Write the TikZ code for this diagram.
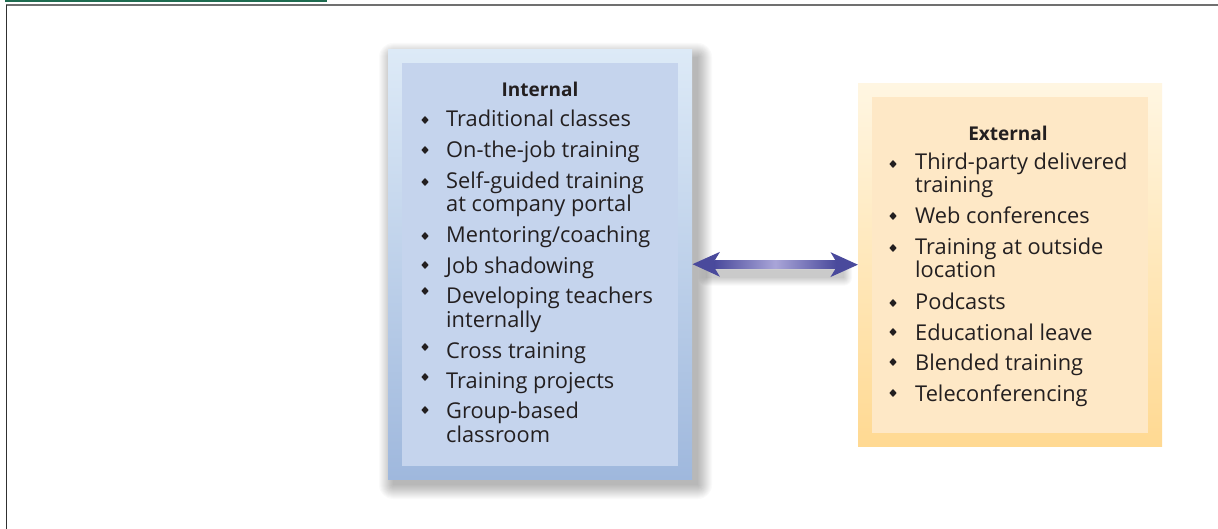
\documentclass[tikz,border=0pt]{standalone}
\usepackage{fontspec}
\setmainfont{Open Sans}
\usetikzlibrary{arrows.meta,calc,shapes.geometric}
\definecolor{txt}{HTML}{231F20}
\definecolor{greenbar}{HTML}{1E6B4F}
\definecolor{framegray}{HTML}{707070}
\definecolor{frameleft}{HTML}{303030}
\definecolor{intTop}{HTML}{DDEAF7}
\definecolor{intBot}{HTML}{9FB8DD}
\definecolor{intIn}{HTML}{C5D4ED}
\definecolor{extTop}{HTML}{FFF6E2}
\definecolor{extBot}{HTML}{FFD992}
\definecolor{extIn}{HTML}{FEE8C6}
\definecolor{arrDark}{HTML}{4A4A9C}
\definecolor{arrLight}{HTML}{A9A5D8}
\begin{document}
\begin{tikzpicture}[x=1pt,y=-1pt,
  itemtext/.style={anchor=base west, inner sep=0pt, text=txt, font=\fontsize{21.8}{23}\selectfont},
  headtext/.style={anchor=base, inner sep=0pt, text=txt, font=\fontsize{19}{22}\selectfont\bfseries},
  bul/.style={diamond, fill=txt, inner sep=0pt, minimum width=7.5pt, minimum height=8pt},
  boxnode/.style={anchor=north west, inner sep=0pt, draw=none},
  arrowline/.style={line width=7pt, draw=arrDark,
     {Stealth[length=27pt,width=24pt,inset=7pt]}-{Stealth[length=27pt,width=24pt,inset=7pt]}}]
\useasboundingbox (0,0) rectangle (1218,529);
\fill[white] (0,0) rectangle (1218,529);
% frame
\fill[greenbar] (5,0) rectangle (327,2.5);
\draw[framegray, line width=2pt] (6,5.5) -- (1218,5.5);
\draw[frameleft, line width=1.5pt] (6.5,5) -- (6.5,529);

% internal box shadow
\coordinate (ishA) at (388,49);
\coordinate (ishB) at (692,479);
\foreach \r in {0,1,...,14}{
  \fill[black, opacity=0.02, rounded corners=\r pt]
    ($(ishA)+(5-\r,8-\r)$) rectangle ($(ishB)+(6+\r,6+\r)$);
}
% boxes
\node[boxnode, minimum width=304pt, minimum height=430pt, top color=intTop, bottom color=intBot] (intouter) at (388,49) {};
\node[boxnode, minimum width=276pt, minimum height=403pt, fill=intIn] (intinner) at (402,63) {};
\node[boxnode, minimum width=304pt, minimum height=363pt, top color=extTop, bottom color=extBot] (extouter) at (858,83) {};
\node[boxnode, minimum width=276pt, minimum height=336pt, fill=extIn] (extinner) at (872,97) {};

% arrow shadow
\foreach \r in {0,1,...,8}{
  \fill[black, opacity=0.025, rounded corners=\r pt]
    ($(intouter.east)+(14-\r,6-\r)$) rectangle ($(extouter.west)+(-14+\r,13+\r)$);
}
% arrow
\draw[arrowline] (intouter.east) -- (extouter.west);
\fill[left color=arrDark, right color=arrDark, middle color=arrLight]
  ($(intouter.east)+(22,-3.5)$) rectangle ($(extouter.west)+(-22,3.5)$);

% internal text
\node[headtext] (ihead) at (540,97) {Internal};
\node[bul] (ib1) at (425,120) {};
\node[itemtext] (it1) at (446,127) {Traditional classes};
\node[bul] (ib2) at (425,150) {};
\node[itemtext] (it2) at (446,158) {On-the-job training};
\node[bul] (ib3) at (425,182) {};
\node[itemtext] (it3) at (446,189) {Self-guided training};
\node[itemtext] (it3b) at (446,212) {at company portal};
\node[bul] (ib4) at (425,236) {};
\node[itemtext] (it4) at (446,243) {Mentoring/coaching};
\node[bul] (ib5) at (425,265) {};
\node[itemtext] (it5) at (446,274) {Job shadowing};
\node[bul] (ib6) at (425,291) {};
\node[itemtext] (it6) at (446,304) {Developing teachers};
\node[itemtext] (it6b) at (446,327) {internally};
\node[bul] (ib7) at (425,347) {};
\node[itemtext] (it7) at (446,358) {Cross training};
\node[bul] (ib8) at (425,377) {};
\node[itemtext] (it8) at (446,388) {Training projects};
\node[bul] (ib9) at (425,410) {};
\node[itemtext] (it9) at (446,418) {Group-based};
\node[itemtext] (it9b) at (446,442) {classroom};

% external text
\node[headtext] (ehead) at (1008,141) {External};
\node[bul] (eb1) at (893,164) {};
\node[itemtext] (et1) at (915,170) {Third-party delivered};
\node[itemtext] (et1b) at (915,193) {training};
\node[bul] (eb2) at (893,216) {};
\node[itemtext] (et2) at (915,224) {Web conferences};
\node[bul] (eb3) at (893,248) {};
\node[itemtext] (et3) at (915,255) {Training at outside};
\node[itemtext] (et3b) at (915,278) {location};
\node[bul] (eb4) at (893,303) {};
\node[itemtext] (et4) at (915,309) {Podcasts};
\node[bul] (eb5) at (893,332) {};
\node[itemtext] (et5) at (915,340) {Educational leave};
\node[bul] (eb6) at (893,362) {};
\node[itemtext] (et6) at (915,370) {Blended training};
\node[bul] (eb7) at (893,393) {};
\node[itemtext] (et7) at (915,401) {Teleconferencing};
\end{tikzpicture}
\end{document}
